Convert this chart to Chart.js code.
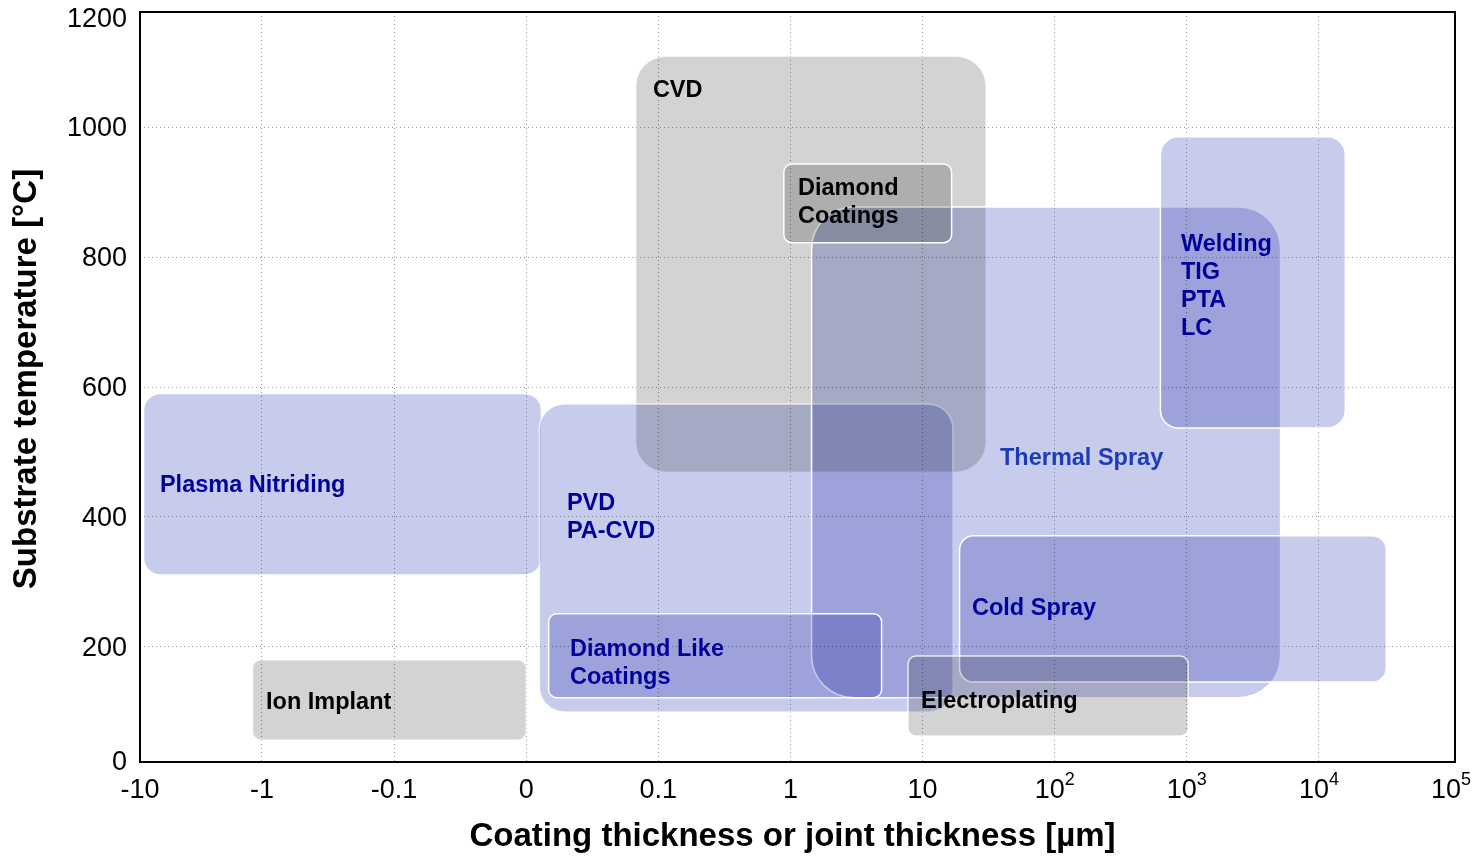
<!DOCTYPE html>
<html>
<head>
<meta charset="utf-8">
<title>Process windows: coating thickness vs. substrate temperature</title>
<script src="https://cdn.jsdelivr.net/npm/chart.js@4.4.1/dist/chart.umd.min.js"></script>
<style>
  html, body { margin: 0; padding: 0; background: #fff; }
  #wrap { width: 1476px; height: 856px; }
  canvas { display: block; }
</style>
</head>
<body>
<div id="wrap"><canvas id="chart" width="1476" height="856"></canvas></div>
<script>
// Thickness axis is an ordinal decade scale: position 0 = -10 µm ... position 10 = 10^5 µm.
const thicknessTicks = ['-10', '-1', '-0.1', '0', '0.1', '1', '10', '10^2', '10^3', '10^4', '10^5'];
const temperatureTicks = [0, 200, 400, 600, 800, 1000, 1200];

// Process windows (decade position on the thickness axis, temperature in °C)
const processes = ['Plasma Nitriding', 'Ion Implant', 'CVD', 'PVD / PA-CVD', 'Thermal Spray',
                   'Diamond Coatings', 'Welding', 'Diamond Like Coatings', 'Cold Spray', 'Electroplating'];
const thicknessFrom = [0.11, 0.93, 3.83, 3.10, 5.16, 4.95, 7.80, 3.17, 6.28, 5.89];
const thicknessTo   = [3.11, 3.00, 6.48, 6.23, 8.71, 6.22, 9.20, 5.69, 9.51, 8.01];
const tempLow       = [312,   57,  469,  100,  122,  822,  537,  122,  146,   63];
const tempHigh      = [589,  180, 1109,  574,  877,  943,  985,  251,  371,  186];

// Text drawn inside each window, and where its first line sits (same units as above)
const processText = [['Plasma Nitriding'], ['Ion Implant'], ['CVD'], ['PVD', 'PA-CVD'], ['Thermal Spray'],
                     ['Diamond', 'Coatings'], ['Welding', 'TIG', 'PTA', 'LC'], ['Diamond Like', 'Coatings'],
                     ['Cold Spray'], ['Electroplating']];
const textThickness = [0.228, 1.031, 3.959, 3.308, 6.586, 5.057, 7.956, 3.331, 6.374, 5.988];
const textTemp      = [451,   117,  1059,   423,   492,   908,   822,   199,   262,   118];

const xTitle = 'Coating thickness or joint thickness [µm]';
const yTitle = 'Substrate temperature [°C]';

// ---- appearance ----
const FONT = "'Liberation Sans', Arial, Helvetica, sans-serif";
const tones = {
  blue: { fill: 'rgb(200,204,236)', text: '#00009a' },
  gray: { fill: 'rgb(211,211,211)', text: '#000000' }
};
const processStyle = {
  'Plasma Nitriding':      { tone: 'blue', radius: 16, edge: 0.0 },
  'Ion Implant':           { tone: 'gray', radius: 8,  edge: 0.6 },
  'CVD':                   { tone: 'gray', radius: 30, edge: 0.6 },
  'PVD / PA-CVD':          { tone: 'blue', radius: 25, edge: 0.7 },
  'Thermal Spray':         { tone: 'blue', radius: 42, edge: 1.0, text: '#1e3cb4' },
  'Diamond Coatings':      { tone: 'gray', radius: 8,  edge: 1.0 },
  'Welding':               { tone: 'blue', radius: 18, edge: 1.0 },
  'Diamond Like Coatings': { tone: 'blue', radius: 8,  edge: 1.0 },
  'Cold Spray':            { tone: 'blue', radius: 14, edge: 1.0 },
  'Electroplating':        { tone: 'gray', radius: 8,  edge: 0.8 }
};
const X_MIN = 0.077, X_MAX = 10.03;      // decade positions at the frame edges
const Y_MIN = 23, Y_MAX = 1177;          // temperatures at the frame edges
const Y_LABEL_LOW = 26, Y_LABEL_HIGH = 1168;
const GRID = '#9a9a9a';
const LINE_GAP = 28;
const TEXT_NUDGE = 1.5;

const clamp = (v, lo, hi) => Math.min(Math.max(v, lo), hi);

// one invisible two-corner dataset per window, so the library places the corners
const datasets = processes.map((name, i) => ({
  label: name,
  data: [{ x: thicknessFrom[i], y: tempLow[i] }, { x: thicknessTo[i], y: tempHigh[i] }],
  pointRadius: 0,
  pointHoverRadius: 0,
  showLine: false
}));

const windowsPlugin = {
  id: 'processWindows',
  beforeDraw(chart) {
    const { ctx } = chart;
    ctx.save();
    ctx.fillStyle = '#ffffff';
    ctx.fillRect(0, 0, chart.width, chart.height);
    ctx.restore();
  },
  afterDatasetsDraw(chart) {
    const { ctx, chartArea: a, scales } = chart;
    ctx.save();
    ctx.beginPath();
    ctx.rect(a.left, a.top, a.right - a.left, a.bottom - a.top);
    ctx.clip();
    chart.data.datasets.forEach((ds, i) => {
      const pts = chart.getDatasetMeta(i).data;
      const st = processStyle[ds.label];
      const x0 = Math.min(pts[0].x, pts[1].x), x1 = Math.max(pts[0].x, pts[1].x);
      const y0 = Math.min(pts[0].y, pts[1].y), y1 = Math.max(pts[0].y, pts[1].y);
      ctx.beginPath();
      ctx.roundRect(x0, y0, x1 - x0, y1 - y0, st.radius);
      ctx.globalCompositeOperation = 'multiply';
      ctx.fillStyle = tones[st.tone].fill;
      ctx.fill();
      ctx.globalCompositeOperation = 'source-over';
      if (st.edge > 0) {
        ctx.lineWidth = 1.5;
        ctx.strokeStyle = 'rgba(255,255,255,' + st.edge + ')';
        ctx.stroke();
      }
    });
    ctx.font = 'bold 23.5px ' + FONT;
    ctx.textAlign = 'left';
    ctx.textBaseline = 'middle';
    processes.forEach((name, i) => {
      const st = processStyle[name];
      ctx.fillStyle = st.text || tones[st.tone].text;
      const tx = scales.x.getPixelForValue(textThickness[i]);
      const ty = scales.y.getPixelForValue(textTemp[i]) + TEXT_NUDGE;
      processText[i].forEach((line, k) => ctx.fillText(line, tx, ty + k * LINE_GAP));
    });
    ctx.restore();
  },
  afterDraw(chart) {
    const { ctx, chartArea: a, scales } = chart;
    ctx.save();
    // frame
    ctx.lineWidth = 2;
    ctx.strokeStyle = '#000';
    ctx.strokeRect(a.left, a.top, a.right - a.left, a.bottom - a.top);
    // thickness tick labels, with raised exponents
    const baseY = a.bottom + 36;
    ctx.fillStyle = '#000';
    ctx.textBaseline = 'alphabetic';
    ctx.textAlign = 'left';
    thicknessTicks.forEach((lab, i) => {
      const px = scales.x.getPixelForValue(clamp(i, X_MIN, X_MAX));
      const [base, exp] = lab.split('^');
      ctx.font = '27px ' + FONT;
      const wb = ctx.measureText(base).width;
      let we = 0;
      if (exp) { ctx.font = '18px ' + FONT; we = ctx.measureText(exp).width; }
      const start = px - (wb + we) / 2;
      ctx.font = '27px ' + FONT;
      ctx.fillText(base, start, baseY);
      if (exp) {
        ctx.font = '18px ' + FONT;
        ctx.fillText(exp, start + wb, baseY - 13);
      }
    });
    // axis titles
    ctx.font = 'bold 33px ' + FONT;
    ctx.textAlign = 'center';
    ctx.textBaseline = 'middle';
    ctx.fillText(xTitle, (a.left + a.right) / 2 - 5, chart.height - 19);
    ctx.translate(27, (a.top + a.bottom) / 2 - 8);
    ctx.rotate(-Math.PI / 2);
    ctx.fillText(yTitle, 0, 0);
    ctx.restore();
  }
};

new Chart(document.getElementById('chart'), {
  type: 'scatter',
  data: { datasets },
  plugins: [windowsPlugin],
  options: {
    responsive: false,
    animation: false,
    events: [],
    layout: { padding: { left: 0, right: 21, top: 12, bottom: 0 } },
    plugins: { legend: { display: false }, tooltip: { enabled: false } },
    scales: {
      x: {
        type: 'linear',
        position: 'bottom',
        min: X_MIN,
        max: X_MAX,
        afterBuildTicks: s => { s.ticks = thicknessTicks.map((_, i) => ({ value: clamp(i, X_MIN, X_MAX) })); },
        afterFit: s => { s.height = 94; s.paddingLeft = 0; s.paddingRight = 0; },
        ticks: { display: false, autoSkip: false },
        grid: {
          drawTicks: false,
          lineWidth: 1,
          color: c => (c.index === 0 || c.index === thicknessTicks.length - 1) ? 'rgba(0,0,0,0)' : GRID
        },
        border: { display: false, dash: [1, 3] },
        title: { display: false }
      },
      y: {
        type: 'linear',
        position: 'left',
        min: Y_MIN,
        max: Y_MAX,
        afterBuildTicks: s => { s.ticks = temperatureTicks.map(v => ({ value: clamp(v, Y_LABEL_LOW, Y_LABEL_HIGH) })); },
        afterFit: s => { s.width = 140; s.paddingTop = 0; s.paddingBottom = 0; },
        ticks: {
          autoSkip: false,
          padding: 13,
          labelOffset: 2,
          color: '#000',
          font: { family: FONT, size: 27 },
          callback: (v, i) => String(temperatureTicks[i])
        },
        grid: {
          drawTicks: false,
          lineWidth: 1,
          color: c => (c.index === 0 || c.index === temperatureTicks.length - 1) ? 'rgba(0,0,0,0)' : GRID
        },
        border: { display: false, dash: [1, 3] },
        title: { display: false }
      }
    }
  }
});
</script>
</body>
</html>
